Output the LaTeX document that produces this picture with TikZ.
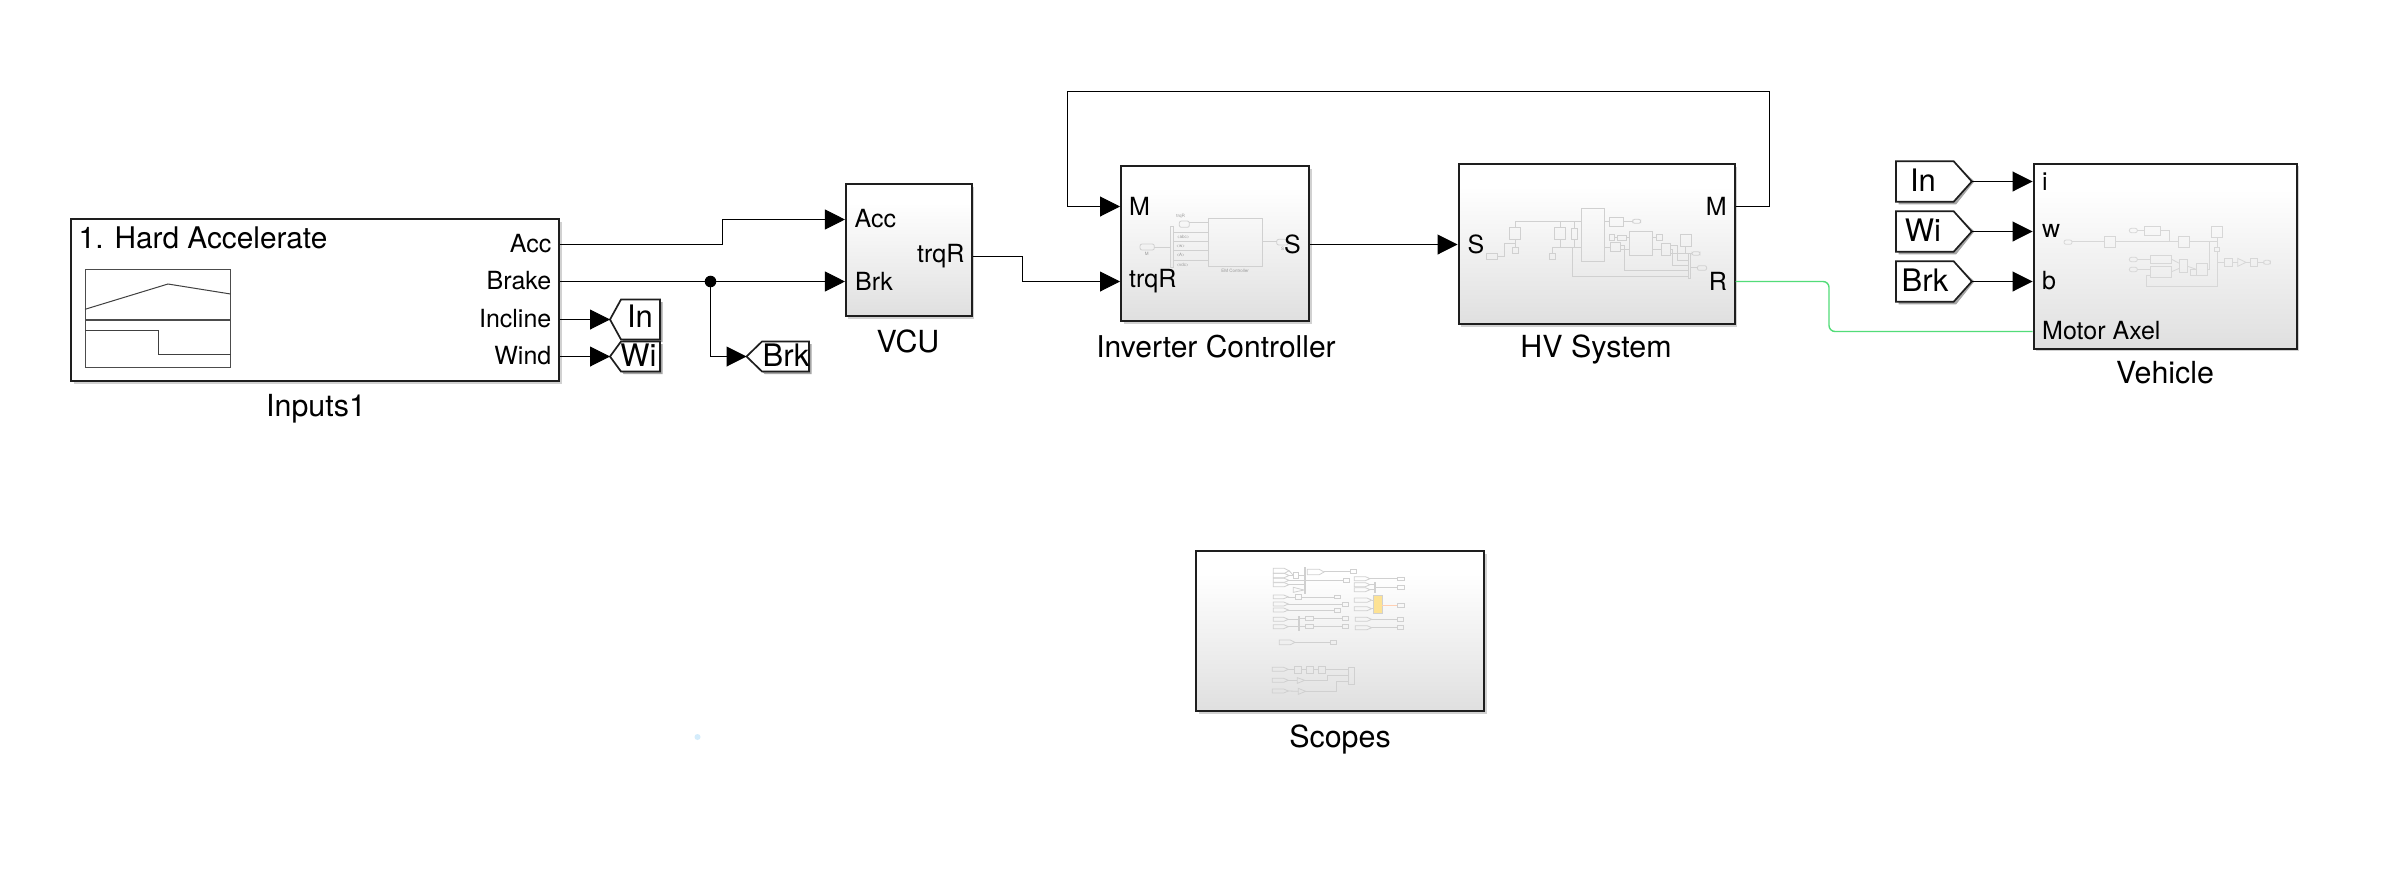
\documentclass[tikz,border=0pt]{standalone}
\usepackage{fontspec}
\setmainfont{TeX Gyre Heros}
\usetikzlibrary{arrows.meta,calc,shadows}
\definecolor{simbot}{HTML}{D2D2D2}
\definecolor{simmid}{HTML}{E7E7E7}
\definecolor{simedge}{HTML}{1E1E1E}
\definecolor{thumbc}{HTML}{D0D0D0}
\definecolor{wiregreen}{HTML}{52DC78}
\definecolor{dotblue}{HTML}{D4ECFB}
\pgfdeclareverticalshading{simfade}{100bp}{color(0bp)=(simbot);color(8bp)=(simbot);color(35bp)=(simmid);color(68bp)=(white);color(100bp)=(white)}
\tikzset{
  x=1pt,y=-1pt,
  simblock/.style={draw=simedge,line width=2pt,inner sep=0pt,shading=simfade,
    drop shadow={shadow xshift=2.5pt,shadow yshift=-2.5pt,fill=black!45,opacity=0.4}},
  plainblock/.style={draw=simedge,line width=2pt,inner sep=0pt,fill=white,
    drop shadow={shadow xshift=2.5pt,shadow yshift=-2.5pt,fill=black!45,opacity=0.4}},
  wire/.style={draw=black,line width=1pt},
  sig/.style={wire,-{Triangle[length=20pt,width=20pt]}},
  physwire/.style={draw=wiregreen,line width=1.4pt,rounded corners=6pt},
  blocklabel/.style={font=\fontsize{30.4}{32}\selectfont,inner sep=0pt},
  portlabel/.style={font=\fontsize{25}{27}\selectfont,inner sep=0pt},
  taglabel/.style={font=\fontsize{31}{33}\selectfont,inner sep=0pt},
  tagshape/.style={draw=simedge,line width=1.7pt,fill=white,line join=miter},
  th/.style={draw=thumbc,line width=0.8pt},
  thtext/.style={font=\fontsize{4.5}{5}\selectfont,text=black!40,inner sep=0pt},
  thscale/.style={x=0.33333pt,y=-0.33333pt},
}
% pentagon tag: tip x, tip/centre y, shoulder x, flat end x, half height, label x, label y, text, name
\newcommand{\simtag}[9]{%
  \fill[black!35] (#1+2.5,#2) -- (#3+2.5,#2-#5+2.5) -- (#4+2.5,#2-#5+2.5) -- (#4+2.5,#2+#5+2.5) -- (#3+2.5,#2+#5+2.5) -- cycle;
  \draw[tagshape] (#1,#2) -- (#3,#2-#5) -- (#4,#2-#5) -- (#4,#2+#5) -- (#3,#2+#5) -- cycle;
  \coordinate (#9) at (#1,#2);
  \node[taglabel] at (#6,#7) {#8};
}
\newcommand{\thpent}[4]{\draw[th] (#1,#2) -- (#3-14,#2) -- (#3,{(#2+#4)/2}) -- (#3-14,#4) -- (#1,#4) -- cycle;}
\begin{document}
\begin{tikzpicture}
\useasboundingbox (0,0) rectangle (2390,876);
\fill[white] (0,0) rectangle (2390,876);

% ---- blocks ----
\node[plainblock,minimum width=488pt,minimum height=162pt] (inputs) at (315,300) {};
\node[simblock,minimum width=125.7pt,minimum height=132pt] (vcu) at (908.8,250) {};
\node[simblock,minimum width=188pt,minimum height=155pt] (inv) at (1215,243.5) {};
\node[simblock,minimum width=276pt,minimum height=160pt] (hv) at (1596.5,244) {};
\node[simblock,minimum width=263pt,minimum height=185pt] (veh) at (2165,256) {};
\node[simblock,minimum width=288pt,minimum height=160pt] (scopes) at (1340,631) {};

% ---- Inputs panel ----
\draw[draw=black!70,line width=0.9pt] (85,269.3) rectangle (230.6,319.3);
\draw[draw=black!70,line width=0.9pt] (85,320.5) rectangle (230.6,367.3);
\draw[draw=black!75,line width=1pt] (85,309.3) -- (168,284) -- (230.6,294);
\draw[draw=black!75,line width=1pt] (85,330) -- (158,330) -- (158,354) -- (230.6,354);
\node[blocklabel,anchor=west,font=\fontsize{29.8}{31}\selectfont] at (78.5,238) {1. Hard Accelerate};
\node[portlabel,anchor=east] at (551.5,244) {Acc};
\node[portlabel,anchor=east] at (551.5,281) {Brake};
\node[portlabel,anchor=east] at (551.5,319) {Incline};
\node[portlabel,anchor=east] at (551.5,356) {Wind};
\coordinate (iAcc) at (inputs.east |- 0,244.5);
\coordinate (iBrk) at (inputs.east |- 0,281.5);
\coordinate (iInc) at (inputs.east |- 0,319.5);
\coordinate (iWin) at (inputs.east |- 0,356.5);
\node[blocklabel] at (316,408.5) {Inputs1};

% ---- goto tags ----
\simtag{610}{319.5}{621}{660}{20}{640}{316.5}{In}{gIn}
\simtag{610}{356.5}{621}{660}{15}{638.5}{355}{Wi}{gWi}
\simtag{746.5}{356.5}{762}{809}{15}{786}{355}{Brk}{gBrk}
\draw[sig] (iInc) -- (gIn);
\draw[sig] (iWin) -- (gWi);
\coordinate (jn) at (710.5,281.5);
\draw[sig] (jn) |- (gBrk);
\fill (jn) circle (5.8);

% ---- VCU ----
\coordinate (vAcc) at (vcu.west |- 0,219.5);
\coordinate (vBrk) at (vcu.west |- 0,281.5);
\coordinate (vOut) at (vcu.east |- 0,256.5);
\node[portlabel,anchor=west] at (854.5,219) {Acc};
\node[portlabel,anchor=west] at (855,281.5) {Brk};
\node[portlabel,anchor=east] at (964.5,256.5) {trqR};
\node[blocklabel] at (908,341.5) {VCU};
\draw[sig] (iAcc) -- (722.5,244.5) -- (722.5,219.5) -- (vAcc);
\draw[sig] (iBrk) -- (vBrk);

% ---- Inverter thumbnail ----
\begin{scope}[shift={(1120pt,-160pt)},thscale]
  \foreach \a/\b/\c/\d in {264/175/427/320} \draw[th] (\a,\b) rectangle (\c,\d);
  \draw[th,rounded corners=2pt] (178,183) rectangle (208,202);
  \draw[th,rounded corners=2pt] (60,252) rectangle (103,270);
  \draw[th,rounded corners=2pt] (470,238) rectangle (505,255);
  \draw[th] (150,198) rectangle (160,323);
  \foreach \a/\b/\c in {208/264/188,160/264/218,160/264/245,160/264/272,160/264/300,103/150/262,427/470/245}
    \draw[th] (\a,\c) -- (\b,\c);
  \node[thtext] at (182,168) {trqR};
  \node[thtext] at (80,282) {M};
  \node[thtext] at (190,232) {<abc>};
  \node[thtext] at (182,258) {<w>};
  \node[thtext] at (182,286) {<A>};
  \node[thtext] at (188,314) {<vdc>};
  \node[thtext] at (488,268) {S};
  \node[thtext] at (345,333) {EM Controller};
\end{scope}
\coordinate (cM) at (inv.west |- 0,206.5);
\coordinate (cT) at (inv.west |- 0,281.5);
\coordinate (cS) at (inv.east |- 0,244.5);
\node[portlabel,anchor=west] at (1129,206) {M};
\node[portlabel,anchor=west] at (1129,281.3) {trqR};
\node[portlabel,anchor=east] at (1301,244) {S};
\node[blocklabel,font=\fontsize{30}{32}\selectfont] at (1216,346.5) {Inverter Controller};
\draw[sig] (vOut) -- (1022.5,256.5) -- (1022.5,281.5) -- (cT);

% ---- HV thumbnail ----
\begin{scope}[shift={(1460pt,-160pt)},thscale]
  \foreach \a/\b/\c/\d in {80/280/113/298,148/202/182/238,157/262/174/281,283/202/317/238,268/280/287/298,335/206/352/237,364/145/434/305,448/171/491/199,447/223/464/241,472/225/499/240,451/248/481/275,509/214/578/286,589/223/607/241,605/250/630/286,660/224/694/259,685/280/691/355}
    \draw[th] (\a,\b) rectangle (\c,\d);
  \foreach \a/\b/\c/\d in {518/178/542/190,696/275/720/286,712/317/740/331}
    \draw[th,rounded corners=2pt] (\a,\b) rectangle (\c,\d);
  \draw[th] (113,289) -- (133,289) -- (133,251) -- (165,251);
  \draw[th] (165,238) -- (165,262);
  \draw[th] (165,202) -- (165,184) -- (364,184);
  \draw[th] (300,184) -- (300,202);
  \draw[th] (343,184) -- (343,206);
  \draw[th] (300,238) -- (300,262);
  \draw[th] (343,237) -- (343,262);
  \draw[th] (277,280) -- (277,262) -- (364,262);
  \draw[th] (434,184) -- (448,184);
  \draw[th] (491,184) -- (518,184);
  \draw[th] (434,262) -- (451,262);
  \draw[th] (464,232) -- (472,232);
  \draw[th] (499,232) -- (509,232);
  \draw[th] (481,268) -- (509,268);
  \draw[th] (578,232) -- (589,232);
  \draw[th] (578,268) -- (605,268);
  \draw[th] (481,255) -- (493,255) -- (493,331) -- (685,331);
  \draw[th] (338,262) -- (338,349) -- (685,349);
  \draw[th] (630,255) -- (653,255) -- (653,300) -- (685,300);
  \draw[th] (630,268) -- (637,268) -- (637,317) -- (685,317);
  \draw[th] (677,259) -- (677,281) -- (696,281);
  \draw[th] (630,281) -- (677,281);
  \draw[th] (691,323) -- (712,323);
\end{scope}
\coordinate (hS) at (hv.west |- 0,244.5);
\coordinate (hM) at (hv.east |- 0,206.5);
\coordinate (hR) at (hv.east |- 0,281.5);
\node[portlabel,anchor=west] at (1467.5,244) {S};
\node[portlabel,anchor=east] at (1727,206) {M};
\node[portlabel,anchor=east] at (1727,281.3) {R};
\node[blocklabel] at (1596,349.5) {HV System};
\draw[sig] (cS) -- (hS);
\draw[sig] (hM) -- (1769.5,206.5) -- (1769.5,91.5) -- (1067.5,91.5) -- (1067.5,206.5) -- (cM);

% ---- Vehicle ----
\begin{scope}[shift={(2080pt,-190pt)},thscale]
  \foreach \a/\b/\c/\d in {72/138/107/172,193/108/242/135,295/138/329/172,394/108/428/143,403/171/419/185,211/196/275/221,211/229/275/263,298/208/323/247,349/221/383/256,331/238/349/256,433/205/457/229,511/205/533/229}
    \draw[th,draw=thumbc!85] (\a,\b) rectangle (\c,\d);
  \foreach \a/\b/\c/\d in {-48/150/-24/163,148/115/172/128,148/202/172/215,148/232/172/245,551/211/571/223}
    \draw[th,draw=thumbc!85,rounded corners=2pt] (\a,\b) rectangle (\c,\d);
  \draw[th,draw=thumbc!85] (473,205) -- (473,229) -- (498,217) -- cycle;
  \draw[th,draw=thumbc!85] (-24,155) -- (72,155);
  \draw[th,draw=thumbc!85] (107,155) -- (295,155);
  \draw[th,draw=thumbc!85] (172,121) -- (193,121);
  \draw[th,draw=thumbc!85] (242,121) -- (268,121) -- (268,155);
  \draw[th,draw=thumbc!85] (329,155) -- (411,155);
  \draw[th,draw=thumbc!85] (411,143) -- (411,171);
  \draw[th,draw=thumbc!85] (388,155) -- (388,238) -- (383,238);
  \draw[th,draw=thumbc!85] (172,208) -- (211,208);
  \draw[th,draw=thumbc!85] (172,238) -- (211,238);
  \draw[th,draw=thumbc!85] (275,208) -- (298,220);
  \draw[th,draw=thumbc!85] (275,245) -- (298,235);
  \draw[th,draw=thumbc!85] (323,229) -- (349,238);
  \draw[th,draw=thumbc!85] (411,185) -- (411,288) -- (199,288) -- (199,255) -- (211,255);
  \draw[th,draw=thumbc!85] (411,217) -- (433,217);
  \draw[th,draw=thumbc!85] (457,217) -- (473,217);
  \draw[th,draw=thumbc!85] (498,217) -- (511,217);
  \draw[th,draw=thumbc!85] (533,217) -- (551,217);
\end{scope}
\coordinate (vI) at (veh.west |- 0,181.5);
\coordinate (vW) at (veh.west |- 0,231.5);
\coordinate (vB) at (veh.west |- 0,281.5);
\coordinate (vM) at (veh.west |- 0,331.5);
\node[portlabel,anchor=west] at (2042,181.3) {i};
\node[portlabel,anchor=west] at (2042,231) {w};
\node[portlabel,anchor=west] at (2042,281) {b};
\node[portlabel,anchor=west] at (2042,331) {Motor Axel};
\node[blocklabel] at (2165,373) {Vehicle};
\simtag{1971.8}{181.5}{1953.6}{1896}{20.3}{1923}{180.5}{In}{fIn}
\simtag{1971.8}{231.5}{1953.6}{1896}{20.3}{1923}{230.5}{Wi}{fWi}
\simtag{1971.8}{281.5}{1953.6}{1896}{20.3}{1925}{280.5}{Brk}{fBrk}
\draw[sig] (fIn) -- (vI);
\draw[sig] (fWi) -- (vW);
\draw[sig] (fBrk) -- (vB);
\draw[physwire] (hR) -- (1829,281.5) -- (1829,331.5) -- (vM);

% ---- Scopes thumbnail ----
\begin{scope}[shift={(1180pt,-540pt)},thscale]
  \foreach \a/\b/\c/\d in {280/85/327/100,280/100/327/113,280/115/327/127,280/128/327/140,382/88/432/104,280/165/325/176,280/186/325/198,280/204/325/216,280/232/325/244,280/254/325/266,298/300/345/314,523/110/570/122,523/128/570/140,523/143/570/155,523/174/575/187,523/200/575/212,526/232/575/244,526/257/575/269,277/382/325/394,277/415/325/427,277/447/325/459}
    \thpent{\a}{\b}{\c}{\d}
  \foreach \a/\b/\c/\d in {340/98/356/115,373/82/377/160,512/88/530/100,490/115/509/128,347/163/365/179,463/165/481/176,487/186/506/199,463/204/481/216,355/229/359/270,375/229/401/242,375/254/401/266,487/229/506/242,487/254/506/266,451/300/470/313,652/111/674/122,583/127/586/156,652/136/674/149,652/189/674/202,652/232/671/244,652/257/671/269,344/379/365/399,380/379/400/399,416/379/437/399,505/382/524/432}
    \draw[th] (\a,\b) rectangle (\c,\d);
  \draw[th,fill=yellow!50!orange!40] (580,166) rectangle (606,221);
  \draw[draw=red!25!orange!30,line width=0.8pt] (606,196) -- (652,196);
  \draw[th] (340,142) -- (340,157) -- (372,150) -- cycle;
  \foreach \a/\b/\c in {432/512/95,377/490/121,327/373/121,327/373/134,325/347/171,365/463/171,325/487/192,325/463/210,325/355/238,325/355/260,359/375/236,359/375/260,401/487/236,401/487/260,345/451/307,570/652/116,570/583/134,570/583/149,586/652/142,575/580/181,575/580/206,575/652/238,575/652/263,325/344/388,365/380/388,400/416/388,437/505/388}
    \draw[th] (\a,\c) -- (\b,\c);
  \draw[th] (327,92) -- (340,106);
  \draw[th] (327,106) -- (340,106);
  \draw[th] (356,106) -- (373,106);
  \draw[th] (325,421) -- (352,421);
  \draw[th] (325,453) -- (355,454);
  \draw[th] (352,413) -- (352,430) -- (374,421) -- cycle;
  \draw[th] (355,445) -- (355,463) -- (377,454) -- cycle;
  \draw[th] (374,421) -- (441,421) -- (441,406) -- (505,406);
  \draw[th] (377,454) -- (470,454) -- (470,423) -- (505,423);
\end{scope}
\node[blocklabel] at (1340,739) {Scopes};

% ---- stray dot ----
\fill[dotblue] (697.5,737) circle (3);
\end{tikzpicture}
\end{document}
